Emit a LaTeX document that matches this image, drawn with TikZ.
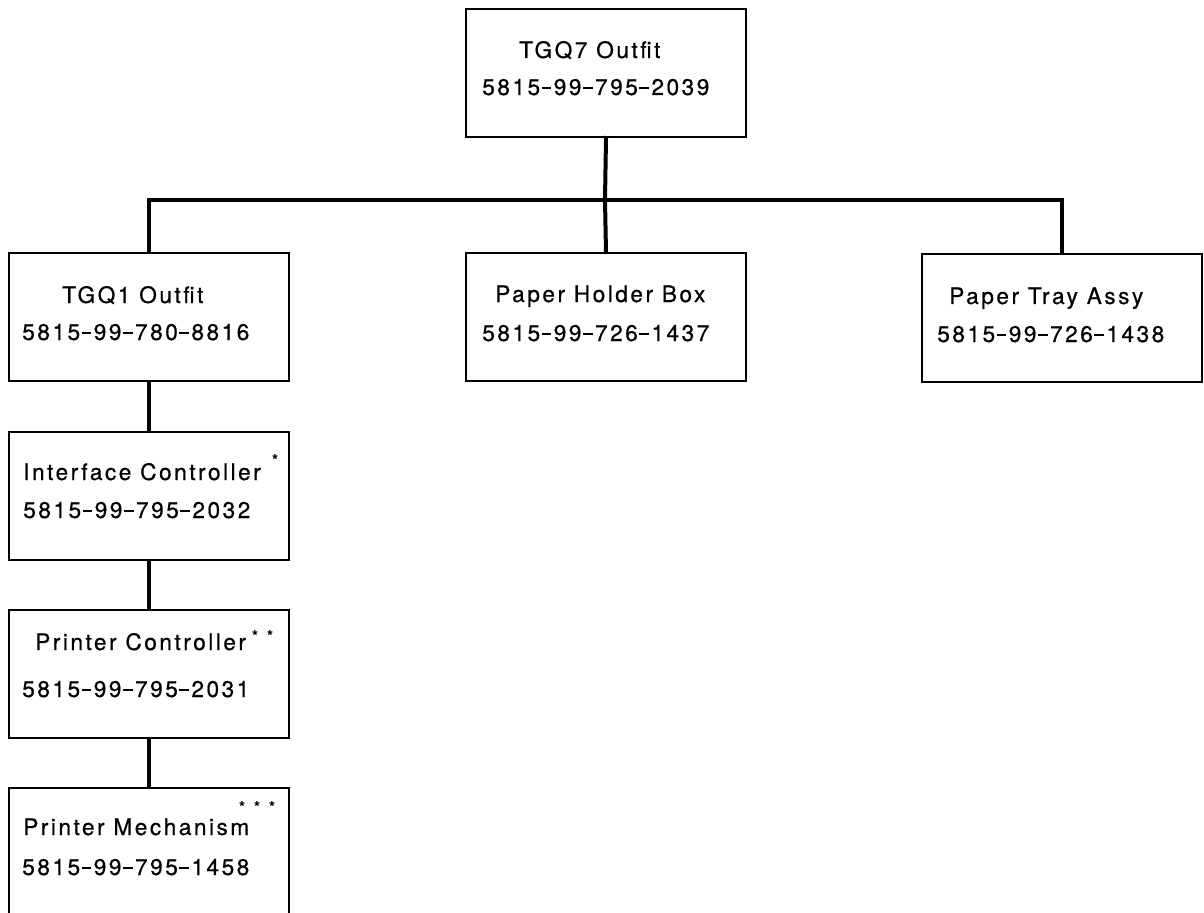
\documentclass[tikz,border=0pt]{standalone}
\usepackage{fontspec}
\newfontfamily\partfont[LetterSpace=11, FakeBold=0.6]{TeX Gyre Heros}
% dash used in the part numbers
\newcommand\pdash{\kern0.06em\rule[0.27em]{0.44em}{0.08em}\kern0.1em}
\begin{document}
\begin{tikzpicture}[x=0.75pt,y=-0.75pt,
  partbox/.style={draw=black, line width=1.5pt, rectangle, anchor=north west,
    minimum width=210pt, minimum height=96pt, inner sep=0pt},
  link/.style={line width=3pt, line cap=rect},
  txt/.style={anchor=base west, inner sep=0pt, text=black,
    font=\partfont\fontsize{17pt}{20pt}\selectfont},
  star/.style={inner sep=0pt, font=\partfont\fontsize{12pt}{13pt}\selectfont}]
\useasboundingbox (0,0) rectangle (1204,913);
\clip (0,0) rectangle (1204,913);

% boxes
\node[partbox] (top)    at (465,8)   {};
\node[partbox] (tgq1)   at (8,252)   {};
\node[partbox] (holder) at (465,252) {};
\node[partbox] (tray)   at (921,253) {};
\node[partbox] (iface)  at (8,431)   {};
\node[partbox] (pctrl)  at (8,609)   {};
\node[partbox] (mech)   at (8,787)   {};

% connectors
\coordinate (bus) at (605,200);
\draw[link] (top.south) -- (bus);
\draw[link] (tgq1.north) |- (bus) -| (tray.north);
\draw[link] (bus) -- (holder.north);
\draw[link] (tgq1.south) -- (iface.north);
\draw[link] (iface.south) -- (pctrl.north);
\draw[link] (pctrl.south) -- (mech.north);

% labels
\node[txt] (topA) at (519,58)  {TGQ7 Outfit};
\node[txt] (topB) at (482,95)  {5815\pdash 99\pdash 795\pdash 2039};
\node[txt] (tgqA) at (62,303)  {TGQ1 Outfit};
\node[txt] (tgqB) at (22,340)  {5815\pdash 99\pdash 780\pdash 8816};
\node[txt] (holA) at (495,302) {Paper Holder Box};
\node[txt] (holB) at (482,341) {5815\pdash 99\pdash 726\pdash 1437};
\node[txt] (trA)  at (949,304) {Paper Tray Assy};
\node[txt] (trB)  at (937,342) {5815\pdash 99\pdash 726\pdash 1438};
\node[txt] (ifA)  at (23,480)  {Interface Controller};
\node[txt] (ifB)  at (23,518)  {5815\pdash 99\pdash 795\pdash 2032};
\node[txt] (pcA)  at (35,650)  {Printer Controller};
\node[txt] (pcB)  at (22,697)  {5815\pdash 99\pdash 795\pdash 2031};
\node[txt] (meA)  at (23,835)  {Printer Mechanism};
\node[txt] (meB)  at (22,875)  {5815\pdash 99\pdash 795\pdash 1458};

% footnote marks
\node[star] (s1)  at (275,460) {*};
\node[star] (s2a) at (255,636) {*};
\node[star] (s2b) at (270,636) {*};
\node[star] (s3a) at (242,807) {*};
\node[star] (s3b) at (257,807) {*};
\node[star] (s3c) at (272,807) {*};
\end{tikzpicture}
\end{document}
